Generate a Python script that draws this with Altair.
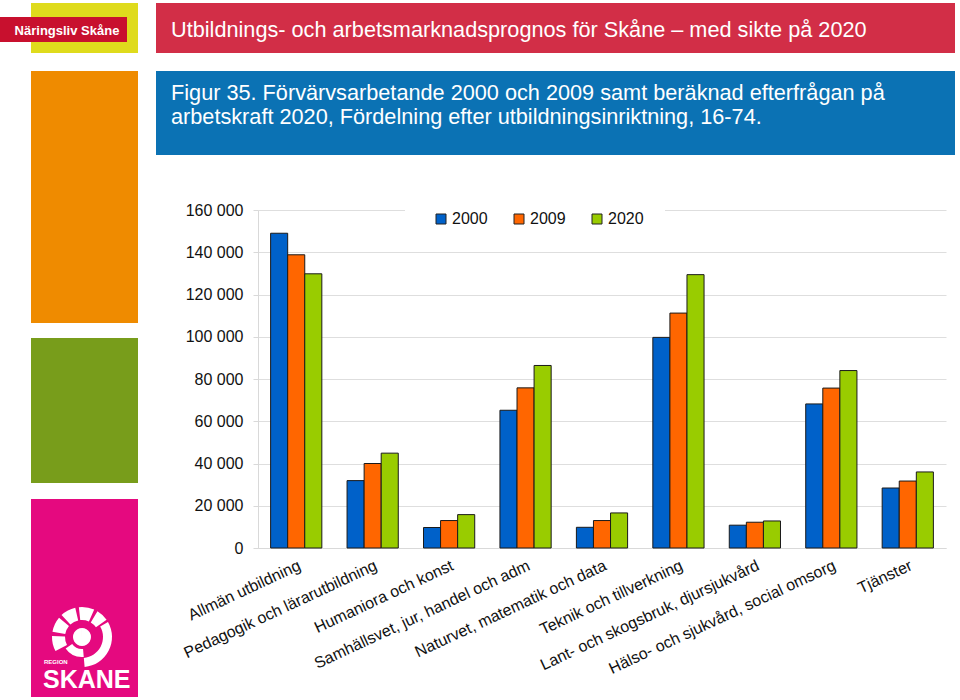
import altair as alt
import pandas as pd
import math

# ---- data ----
categories = [
    "Allmän utbildning",
    "Pedagogik och lärarutbildning",
    "Humaniora och konst",
    "Samhällsvet, jur, handel och adm",
    "Naturvet, matematik och data",
    "Teknik och tillverkning",
    "Lant- och skogsbruk, djursjukvård",
    "Hälso- och sjukvård, social omsorg",
    "Tjänster",
]
years = ["2000", "2009", "2020"]
v2000 = [149000, 31900, 9700, 65200, 9800, 99700, 10800, 68200, 28400]
v2009 = [138800, 40000, 13000, 75800, 13000, 111200, 12200, 75700, 31700]
v2020 = [129800, 44900, 15800, 86400, 16600, 129400, 12800, 84000, 36000]
y_ticks = [0, 20000, 40000, 60000, 80000, 100000, 120000, 140000, 160000]
bar_colors = ["#0061C9", "#FF6600", "#99CC00"]

header_title = "Utbildnings- och arbetsmarknadsprognos för Skåne – med sikte på 2020"
fig_line1 = "Figur 35. Förvärvsarbetande 2000 och 2009 samt beräknad efterfrågan på"
fig_line2 = "arbetskraft 2020, Fördelning efter utbildningsinriktning, 16-74."
brand = "Näringsliv Skåne"

rows = []
for series, vals in zip(years, [v2000, v2009, v2020]):
    for c, v in zip(categories, vals):
        rows.append({"kategori": c, "år": series, "värde": v})
df = pd.DataFrame(rows)

FONT = "Liberation Sans"
OX, OY = 258, 210          # plot origin in page pixels
W, H = 688, 338            # plot size


def blank():
    return alt.Chart(alt.Data(values=[{}]))


def rect(x1, y1, x2, y2, color):
    return blank().mark_rect(color=color).encode(
        x=alt.value(x1 - OX), x2=alt.value(x2 - OX),
        y=alt.value(y1 - OY), y2=alt.value(y2 - OY),
    )


def txt(s, x, y, size, color, weight="normal", align="left"):
    return blank().mark_text(
        text=s, align=align, baseline="alphabetic", font=FONT,
        fontSize=size, color=color, fontWeight=weight,
    ).encode(x=alt.value(x - OX), y=alt.value(y - OY))


def arc(cx, cy, r1, r2, a1, a2, color="white"):
    out = []
    a1m = a1 % 360
    a2m = a1m + (a2 - a1)
    segs = [(a1m, a2m)] if a2m <= 360 else [(a1m, 360), (0, a2m - 360)]
    for s1, s2 in segs:
        out.append(blank().mark_arc(
            theta=math.radians(s1), theta2=math.radians(s2),
            radius=r2, radius2=r1, color=color,
        ).encode(x=alt.value(cx - OX), y=alt.value(cy - OY)))
    return out


deco = [
    rect(31, 3, 138, 53, "#DFDB1D"),
    rect(0, 17, 127, 42, "#C8102E"),
    rect(31, 71, 138, 323, "#EF8B00"),
    rect(31, 338, 138, 483, "#789D1B"),
    rect(31, 499, 138, 697, "#E5097F"),
    rect(156, 3, 955, 53, "#D22E47"),
    rect(156, 71, 955, 155, "#0B72B4"),
]

texts = [
    txt(brand, 67, 35, 13, "white", weight="bold", align="center"),
    txt(header_title, 171, 37, 21.7, "white"),
    txt(fig_line1, 171, 100, 21.7, "white"),
    txt(fig_line2, 171, 124, 21.7, "white"),
    txt("REGION", 44, 664, 6, "white", weight="bold"),
    txt("SKANE", 43, 688, 25, "white", weight="bold"),
]

# simplified logo ring
cx, cy = 82, 637
logo = []
for spec in [
    (17, 30, -118, -88),
    (17, 30, -80, -50),
    (17, 30, -43, -13),
    (17, 30, -6, 24),
    (17, 30, 31, 55),
    (21, 30, 60, 175),
    (12, 20, 175, 235),
    (0, 9, 0, 359.9),
]:
    logo += arc(cx, cy, *spec)

bars = alt.Chart(df).mark_bar(stroke="#1a1a1a", strokeWidth=1).encode(
    x=alt.X(
        "kategori:N", sort=categories,
        scale=alt.Scale(paddingInner=0.33, paddingOuter=0.165),
        axis=alt.Axis(
            title=None, labelAngle=335, labelAlign="right", labelBaseline="top",
            labelFont=FONT, labelFontSize=16, labelColor="#111111",
            labelPadding=9, labelLimit=400, labelOverlap=False,
            ticks=False, domainColor="#D9D9D9", grid=False,
        ),
    ),
    xOffset=alt.XOffset("år:N", sort=years,
                        scale=alt.Scale(paddingInner=0, paddingOuter=0)),
    y=alt.Y(
        "värde:Q", scale=alt.Scale(domain=[0, 160000], nice=False),
        axis=alt.Axis(
            title=None, values=y_ticks,
            labelExpr="replace(format(datum.value, ','), ',', ' ')",
            labelFont=FONT, labelFontSize=16, labelColor="#111111",
            labelPadding=10, tickSize=5, tickColor="#D9D9D9",
            domainColor="#D9D9D9", gridColor="#DEDEDE",
        ),
    ),
    color=alt.Color(
        "år:N", sort=years,
        scale=alt.Scale(domain=years, range=bar_colors),
        legend=alt.Legend(
            title=None, orient="none", direction="horizontal",
            legendX=435 - OX - 2, legendY=1,
            symbolType="square", symbolSize=100,
            symbolStrokeColor="#222222", symbolStrokeWidth=1,
            labelFont=FONT, labelFontSize=16, labelColor="#111111",
            labelOffset=3, columnPadding=23,
        ),
    ),
)

gap = rect(405, 208, 665, 213, "white")

chart = alt.layer(*deco, *logo, bars, gap, *texts).properties(
    width=W, height=H,
    padding={"left": OX, "top": OY, "right": 960 - OX - W, "bottom": 700 - OY - H},
    autosize=alt.AutoSizeParams(type="none"),
    background="white",
).configure_view(stroke=None)

chart.save("out.html", embed_options={"renderer": "svg", "actions": False})
